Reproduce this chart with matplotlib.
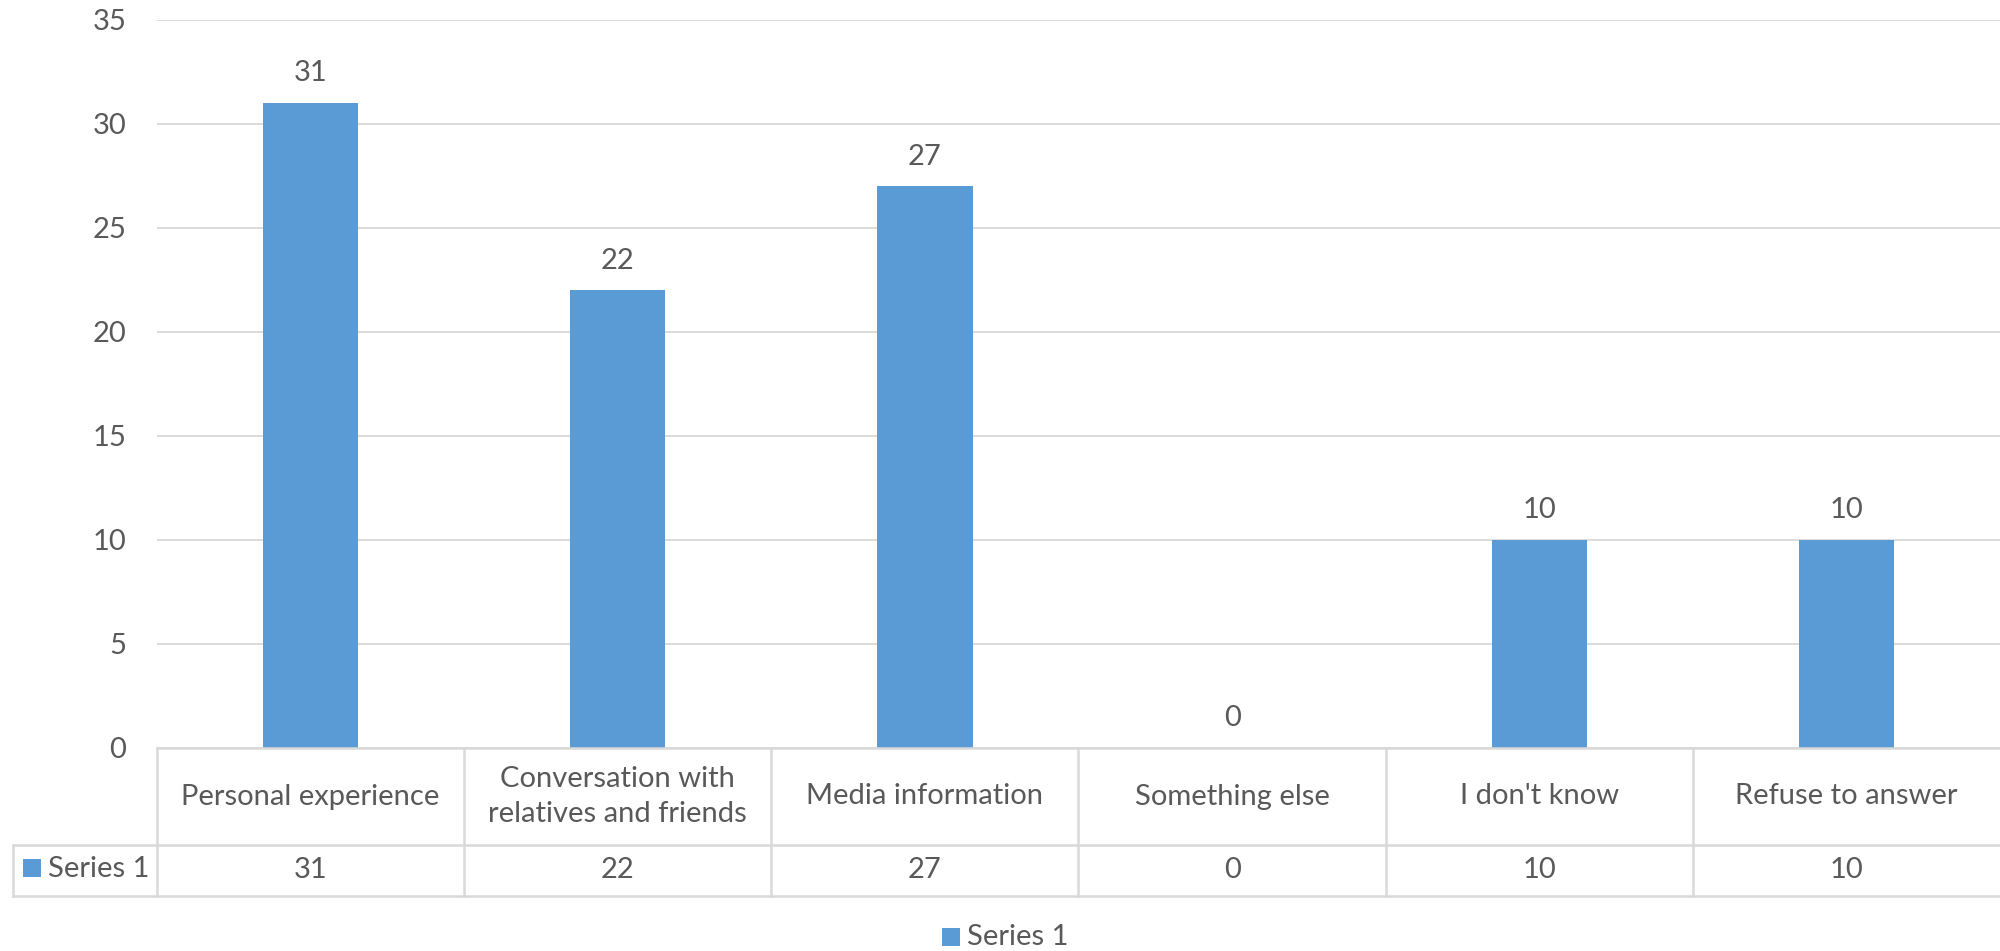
import matplotlib
matplotlib.use("Agg")
import matplotlib.pyplot as plt
from matplotlib.lines import Line2D
from matplotlib.patches import Rectangle
from matplotlib.transforms import blended_transform_factory

categories = [
    "Personal experience",
    "Conversation with\nrelatives and friends",
    "Media information",
    "Something else",
    "I don't know",
    "Refuse to answer",
]
values = [31, 22, 27, 0, 10, 10]
series_name = "Series 1"
yticks = [0, 5, 10, 15, 20, 25, 30, 35]

BAR = "#5B9BD5"
TEXT = "#595959"
GRID = "#D9D9D9"
W, H = 2000, 951
FS = 21

plt.rcParams["font.family"] = ["Lato", "DejaVu Sans"]

fig = plt.figure(figsize=(W / 100, H / 100), dpi=100)


def fy(py):
    return 1 - py / H


def fx(px):
    return px / W


ax = fig.add_axes([fx(157), fy(748), 1 - fx(157), fy(20) - fy(748)])
x = list(range(len(categories)))
ax.bar(x, values, width=0.31, color=BAR, zorder=3)
ax.set_xlim(-0.5, len(categories) - 0.5)
ax.set_ylim(0, 35)
ax.set_yticks(yticks)
ax.set_xticks([])
ax.tick_params(axis="y", length=0, pad=22, labelsize=FS, labelcolor=TEXT)
ax.grid(axis="y", color=GRID, linewidth=1.3, zorder=0)
for s in ax.spines.values():
    s.set_visible(False)

for xi, v in zip(x, values):
    ax.annotate(str(v), (xi, v), xytext=(0, 21.5), textcoords="offset points",
                ha="center", va="center", fontsize=FS, color=TEXT)

# data table under the axis
tr = blended_transform_factory(ax.transData, fig.transFigure)
lw = 1.8
row1_top, row1_bot, row2_bot = 748, 845, 896
left_cell = 13
edges = [i - 0.5 for i in range(len(categories) + 1)]

fig.add_artist(Line2D([fx(157), 1], [fy(row1_top)] * 2, transform=fig.transFigure, color=GRID, lw=lw))
for yy in (row1_bot, row2_bot):
    fig.add_artist(Line2D([fx(left_cell), 1], [fy(yy)] * 2, transform=fig.transFigure, color=GRID, lw=lw))
for e in edges[:-1]:
    fig.add_artist(Line2D([e, e], [fy(row1_top), fy(row2_bot)], transform=tr, color=GRID, lw=lw))
fig.add_artist(Line2D([fx(left_cell)] * 2, [fy(row1_bot), fy(row2_bot)], transform=fig.transFigure, color=GRID, lw=lw))

for xi, cat, v in zip(x, categories, values):
    fig.text(xi, fy((row1_top + row1_bot) / 2), cat, transform=tr, ha="center", va="center",
             fontsize=FS, color=TEXT, linespacing=1.4)
    fig.text(xi, fy((row1_bot + row2_bot) / 2), str(v), transform=tr, ha="center", va="center",
             fontsize=FS, color=TEXT)

fig.add_artist(Rectangle((fx(23), fy(877)), fx(18), fy(859) - fy(877), transform=fig.transFigure,
                         color=BAR, lw=0))
fig.text(fx(48), fy(869), series_name, ha="left", va="center", fontsize=FS, color=TEXT)

# legend
fig.add_artist(Rectangle((fx(942), fy(946)), fx(18), fy(928) - fy(946), transform=fig.transFigure,
                         color=BAR, lw=0))
fig.text(fx(967), fy(937), series_name, ha="left", va="center", fontsize=FS, color=TEXT)

fig.savefig("out.png", dpi=100)
